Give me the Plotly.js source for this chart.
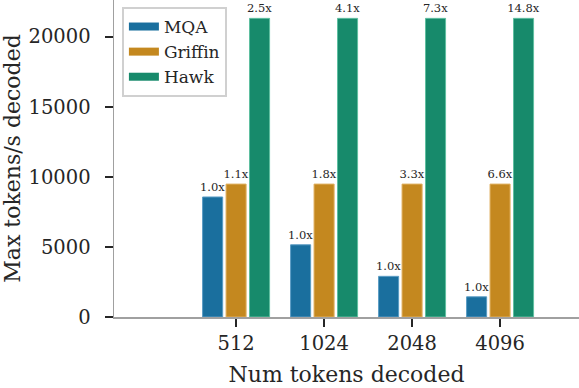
<!DOCTYPE html>
<html>
<head>
<meta charset="utf-8">
<script src="https://cdn.plot.ly/plotly-3.0.1.min.js"></script>
<style>html,body{margin:0;padding:0;background:#fff;}#chart{width:579px;height:388px;}</style>
</head>
<body>
<div id="chart"></div>
<script>
const categories = ["512", "1024", "2048", "4096"];
const seriesNames = ["MQA", "Griffin", "Hawk"];
const mqaValues = [8560, 5150, 2900, 1440];
const griffinValues = [9480, 9480, 9480, 9480];
const hawkValues = [21300, 21300, 21300, 21300];
const mqaLabels = ["1.0x", "1.0x", "1.0x", "1.0x"];
const griffinLabels = ["1.1x", "1.8x", "3.3x", "6.6x"];
const hawkLabels = ["2.5x", "4.1x", "7.3x", "14.8x"];
const yTicks = [0, 5000, 10000, 15000, 20000];

const colors = ["#1a6f9e", "#c4881f", "#178a6b"];
const edgeColors = ["#5a9cc4", "#e0b060", "#5fbfa0"];
const values = [mqaValues, griffinValues, hawkValues];
const labels = [mqaLabels, griffinLabels, hawkLabels];
const FONT = "DejaVu Serif, serif";
const TXT = "#262626";

const traces = [];
for (let i = 0; i < 3; i++) {
  traces.push({
    type: "bar",
    name: seriesNames[i],
    x: categories,
    y: values[i],
    text: labels[i],
    textposition: "outside",
    constraintext: "none",
    cliponaxis: false,
    textfont: {family: FONT, size: 11.5, color: TXT},
    marker: {color: colors[i], line: {color: edgeColors[i], width: 1}},
    showlegend: false,
    hoverinfo: "none"
  });
}
for (let i = 0; i < 3; i++) {
  traces.push({
    type: "scatter",
    mode: "lines",
    name: seriesNames[i],
    x: [null],
    y: [null],
    line: {color: colors[i], width: 8},
    showlegend: true,
    hoverinfo: "none"
  });
}

const layout = {
  width: 579,
  height: 388,
  margin: {l: 114, r: 0, t: 0, b: 71},
  paper_bgcolor: "#fff",
  plot_bgcolor: "#fff",
  font: {family: FONT, color: TXT, size: 19.5},
  barmode: "group",
  bargap: 0.2,
  bargroupgap: 0.145,
  showlegend: true,
  legend: {
    x: 0.017, y: 0.978, xanchor: "left", yanchor: "top",
    bgcolor: "rgba(255,255,255,0.9)",
    bordercolor: "#d0d0d0", borderwidth: 2,
    font: {family: FONT, size: 17, color: TXT},
    itemwidth: 30,
    tracegroupgap: 0
  },
  xaxis: {
    type: "category",
    range: [-1.3875, 3.897],
    showgrid: false,
    zeroline: false,
    showline: true,
    linecolor: "#a0a0a0",
    linewidth: 1.5,
    ticks: "outside",
    ticklen: 8,
    tickwidth: 2,
    tickcolor: TXT,
    tickfont: {family: FONT, size: 19.5, color: TXT},
    title: {text: "Num tokens decoded", font: {family: FONT, size: 22, color: TXT}, standoff: 12},
    fixedrange: true
  },
  yaxis: {
    range: [0, 22610],
    tickvals: yTicks,
    ticktext: yTicks.map(String),
    showgrid: false,
    zeroline: false,
    showline: true,
    linecolor: "#a0a0a0",
    linewidth: 1.5,
    ticks: "outside",
    ticklen: 8,
    tickwidth: 2,
    tickcolor: TXT,
    ticklabelstandoff: 10,
    tickfont: {family: FONT, size: 19.5, color: TXT},
    title: {text: "Max tokens/s decoded", font: {family: FONT, size: 22, color: TXT}, standoff: 8},
    fixedrange: true
  }
};

Plotly.newPlot("chart", traces, layout, {staticPlot: true, displayModeBar: false});
</script>
</body>
</html>
